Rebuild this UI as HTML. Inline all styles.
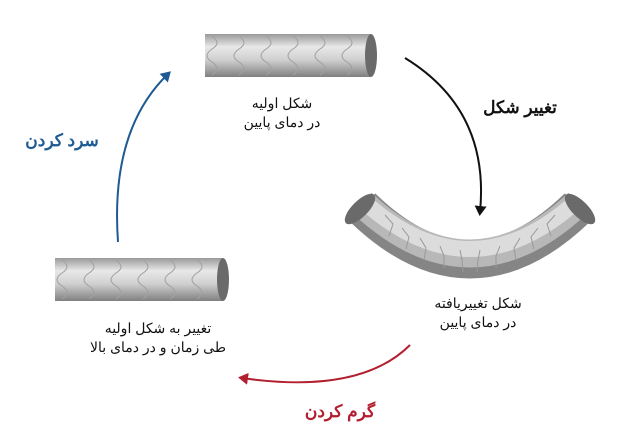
<!DOCTYPE html>
<html><head><meta charset="utf-8"><style>
html,body{margin:0;padding:0;background:#fff;width:624px;height:438px;overflow:hidden}
text{font-family:"Liberation Sans","Noto Sans CJK SC",sans-serif}
</style></head><body>
<svg width="624" height="438" viewBox="0 0 624 438" xmlns="http://www.w3.org/2000/svg">
<defs>
<linearGradient id="cg" x1="0" y1="0" x2="0" y2="1">
<stop offset="0" stop-color="#9a9a9a"/><stop offset="0.3" stop-color="#e8e8e8"/><stop offset="0.6" stop-color="#d0d0d0"/><stop offset="1" stop-color="#808080"/>
</linearGradient>
<marker id="ak" markerWidth="10" markerHeight="12" refX="6" refY="6" orient="auto" markerUnits="userSpaceOnUse"><path d="M0,0 L10,6 L0,12 z" fill="#111"/></marker>
<marker id="ar" markerWidth="10" markerHeight="12" refX="6" refY="6" orient="auto" markerUnits="userSpaceOnUse"><path d="M0,0 L10,6 L0,12 z" fill="#b22030"/></marker>
<marker id="ab" markerWidth="10" markerHeight="12" refX="6" refY="6" orient="auto" markerUnits="userSpaceOnUse"><path d="M0,0 L10,6 L0,12 z" fill="#1f5a94"/></marker>
</defs>
<!-- top cylinder -->
<rect x="205" y="34" width="166" height="43" fill="url(#cg)"/>
<path d="M212,36 q10,7 0,13 q-10,7 0,13 q10,7 0,13 M239,36 q10,7 0,13 q-10,7 0,13 q10,7 0,13 M266,36 q10,7 0,13 q-10,7 0,13 q10,7 0,13 M293,36 q10,7 0,13 q-10,7 0,13 q10,7 0,13 M320,36 q10,7 0,13 q-10,7 0,13 q10,7 0,13 M347,36 q10,7 0,13 q-10,7 0,13 q10,7 0,13" fill="none" stroke="#a0a0a0" stroke-width="1"/>
<ellipse cx="371" cy="55.5" rx="6" ry="21.5" fill="#6a6a6a"/>
<text x="282" y="108" font-size="14" text-anchor="middle" fill="#111">شکل اولیه</text>
<text x="282" y="127" font-size="14" text-anchor="middle" fill="#111">در دمای پایین</text>
<!-- bottom cylinder -->
<rect x="55" y="258" width="168" height="43" fill="url(#cg)"/>
<path d="M62,260 q10,7 0,13 q-10,7 0,13 q10,7 0,13 M89,260 q10,7 0,13 q-10,7 0,13 q10,7 0,13 M116,260 q10,7 0,13 q-10,7 0,13 q10,7 0,13 M143,260 q10,7 0,13 q-10,7 0,13 q10,7 0,13 M170,260 q10,7 0,13 q-10,7 0,13 q10,7 0,13 M197,260 q10,7 0,13 q-10,7 0,13 q10,7 0,13" fill="none" stroke="#a0a0a0" stroke-width="1"/>
<ellipse cx="223" cy="279.5" rx="6" ry="21.5" fill="#6a6a6a"/>
<text x="158" y="333" font-size="14" text-anchor="middle" fill="#111">تغییر به شکل اولیه</text>
<text x="158" y="352" font-size="14" text-anchor="middle" fill="#111">طی زمان و در دمای بالا</text>
<!-- bent tube -->
<path d="M362,207 Q470,312 578,207" fill="none" stroke="#858585" stroke-width="38"/>
<path d="M362,203 Q470,304 578,203" fill="none" stroke="#b8b8b8" stroke-width="28"/>
<path d="M362,200 Q470,298 578,200" fill="none" stroke="#dcdcdc" stroke-width="16"/>
<path d="M385,215 l8,9 -4,12 M402,228 l7,9 -3,12 M420,238 l6,10 -2,12 M440,246 l4,10 0,12 M460,250 l2,10 1,12 M480,250 l-2,10 -1,12 M500,246 l-4,10 0,12 M520,238 l-6,10 2,12 M538,228 l-7,9 3,12 M555,215 l-8,9 4,12" fill="none" stroke="#999" stroke-width="1"/>
<ellipse cx="360" cy="209" rx="8" ry="20" transform="rotate(45 360 209)" fill="#6a6a6a"/>
<ellipse cx="580" cy="209" rx="8" ry="20" transform="rotate(-45 580 209)" fill="#6a6a6a"/>
<text x="478" y="308" font-size="14" text-anchor="middle" fill="#111">شکل تغییریافته</text>
<text x="478" y="327" font-size="14" text-anchor="middle" fill="#111">در دمای پایین</text>
<!-- arrows -->
<path d="M405,58 Q490,110 480,212" fill="none" stroke="#111" stroke-width="2" marker-end="url(#ak)"/>
<text x="520" y="113" font-size="17" font-weight="bold" text-anchor="middle" fill="#111">تغییر شکل</text>
<path d="M410,345 Q360,395 242,378" fill="none" stroke="#b22030" stroke-width="2" marker-end="url(#ar)"/>
<text x="340" y="417" font-size="17" font-weight="bold" text-anchor="middle" fill="#b22030">گرم کردن</text>
<path d="M118,242 Q110,130 168,74" fill="none" stroke="#1f5a94" stroke-width="2" marker-end="url(#ab)"/>
<text x="62" y="146" font-size="17" font-weight="bold" text-anchor="middle" fill="#1f5a94">سرد کردن</text>
</svg>
</body></html>
